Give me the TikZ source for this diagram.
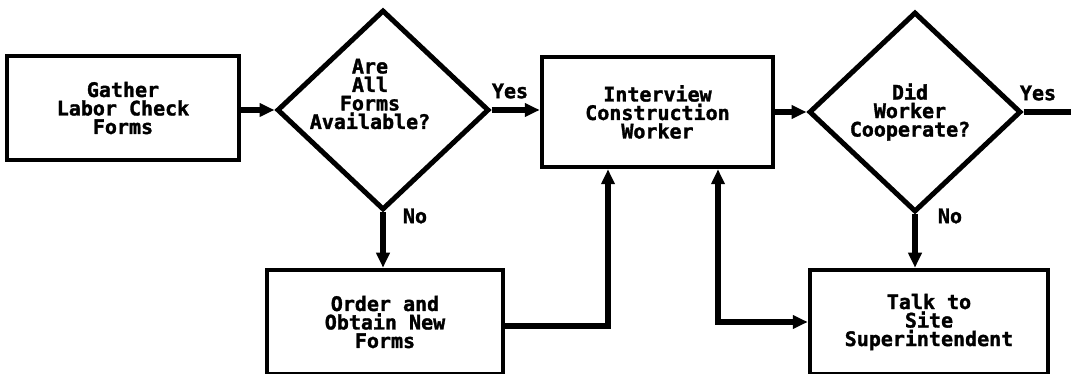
\documentclass[tikz,border=0pt]{standalone}
\usepackage{fontspec}
\newfontfamily\plotfont[FakeBold=1.6]{DejaVu Sans Mono Bold}
\usetikzlibrary{shapes.geometric,arrows.meta,calc}
\tikzset{
  lbl/.style={font=\plotfont\fontsize{20}{18.5}\selectfont, align=center, inner sep=0pt},
  stepbox/.style={draw, line width=4.5pt, rectangle, inner sep=0pt, lbl},
  decision/.style={draw, line width=5pt, diamond, inner sep=0pt},
  tip/.style={Triangle[length=15pt,width=13pt]},
  conn/.style={line width=6pt, -{Triangle[length=15pt,width=13pt]}},
  plain/.style={line width=6pt}
}
\begin{document}
\begin{tikzpicture}[x=1pt,y=-1pt]
  \useasboundingbox (0,0) rectangle (1071,374);
  % process boxes
  \node[stepbox, minimum width=232pt, minimum height=104pt] (b1) at (123,108) {Gather\\Labor Check\\Forms};
  \node[stepbox, minimum width=231pt, minimum height=110pt] (b2) at (657.5,112) {Interview\\Construction\\Worker};
  \node[stepbox, minimum width=236pt, minimum height=104pt] (b3) at (385,322) {Order and\\Obtain New\\Forms};
  \node[stepbox, minimum width=238pt, minimum height=104pt] (b4) at (929,322) {Talk to\\Site\\Superintendent};
  % decisions
  \node[decision, minimum width=212pt, minimum height=200pt] (d1) at (383,110) {};
  \node[decision, minimum width=212pt, minimum height=200pt] (d2) at (915,112) {};
  \node[lbl] (d1t) at (370,94) {Are\\All\\Forms\\Available?};
  \node[lbl] (d2t) at (910,112) {Did\\Worker\\Cooperate?};
  \coordinate (out) at (1071,112);
  % connectors
  \draw[conn] (b1.east |- d1.west) -- (d1.west);
  \draw[conn] (d1.east) -- (d1.east -| b2.west);
  \draw[conn] (b2.east |- d2.west) -- (d2.west);
  \draw[plain] (d2.east) -- (out);
  \draw[conn] (d1.south) -- (d1.south |- b3.north);
  \draw[conn] (d2.south) -- (d2.south |- b4.north);
  \draw[conn] ([yshift=-4]b3.east) -| ([xshift=-49.5]b2.south);
  \draw[line width=6pt, {Triangle[length=15pt,width=13pt]}-{Triangle[length=15pt,width=13pt]}] ([xshift=60.5]b2.south) |- (b4.west);
  % branch labels
  \node[lbl] (y1) at (510,91) {Yes};
  \node[lbl] (n1) at (415,216) {No};
  \node[lbl] (y2) at (1038,93) {Yes};
  \node[lbl] (n2) at (950,216) {No};
\end{tikzpicture}
\end{document}
